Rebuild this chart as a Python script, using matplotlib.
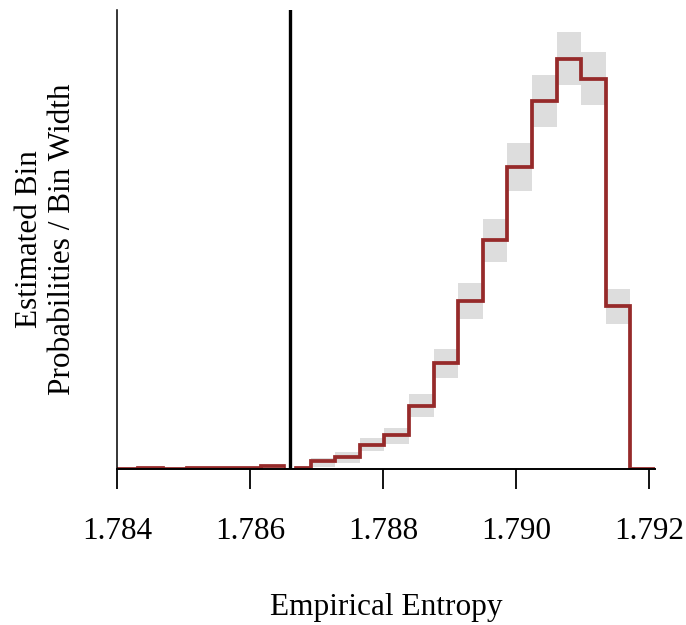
import numpy as np
import matplotlib.pyplot as plt

# bin edges of the histogram (empirical entropy)
edges = [1.78395, 1.78432, 1.78469, 1.78506, 1.78543, 1.78580, 1.78617,
         1.78654, 1.78691, 1.78728, 1.78765, 1.78802, 1.78839, 1.78876,
         1.78913, 1.78950, 1.78987, 1.79024, 1.79061, 1.79098, 1.79135,
         1.79172, 1.79209]
# estimated density per bin
density = [0, 1.4, 0.2, 0.6, 0.9, 0.9, 3.5, 1.2, 9.4, 14.5, 28.3, 40.1,
           74.3, 125.1, 198.2, 270.2, 356.4, 434.2, 483.8, 460.2, 192.3, 0]
# uncertainty band per bin
lower = [0, 0.4, 0, 0, 0, 0, 2.3, 0, 2.4, 7.1, 21.2, 29.5,
         61.4, 107.4, 177.0, 244.3, 328.0, 403.6, 453.1, 429.5, 171.1, 0]
upper = [0.8, 2.4, 1.2, 1.6, 1.9, 1.9, 4.7, 3.5, 13.0, 20.1, 36.6, 48.4,
         88.5, 141.6, 219.5, 295.0, 384.7, 464.9, 515.7, 492.1, 212.4, 0]
true_value = 1.786606
xticks = [1.784, 1.786, 1.788, 1.790, 1.792]

plt.rcParams['font.family'] = ['Liberation Serif', 'DejaVu Serif']

fig = plt.figure(figsize=(6.86, 6.25), dpi=100)
ax = fig.add_axes([117/686, 1 - 469/625, 538/686, 459/625])

edges = np.array(edges)
widths = np.diff(edges)
lower = np.array(lower)
upper = np.array(upper)
ax.bar(edges[:-1], upper - lower, bottom=lower, width=widths, align='edge',
       color='#dddddd', linewidth=0, zorder=1)
ax.stairs(density, edges, baseline=None, color='#962a2a', linewidth=2.7, zorder=2)

ax.axvline(true_value, color='white', linewidth=6, zorder=2.2)
ax.axvline(true_value, color='black', linewidth=2.4, zorder=3)

ax.set_xlim(1.784, 1.79209)
ax.set_ylim(0, 541.6)
ax.set_xticks(xticks)
ax.set_xticklabels([f'{t:.3f}' for t in xticks])
ax.set_yticks([])
ax.tick_params(axis='x', length=14.5, width=1.3, pad=20, labelsize=22.5)
ax.spines['top'].set_visible(False)
ax.spines['right'].set_visible(False)
ax.spines['left'].set_linewidth(1.1)
ax.spines['bottom'].set_linewidth(1.4)

fig.text(386/686, 1 - 607/625, 'Empirical Entropy', ha='center', va='center',
         fontsize=22.5)
fig.text(46/686, 1 - 239/625, 'Estimated Bin\nProbabilities / Bin Width',
         ha='center', va='center', rotation=90, fontsize=22.5, linespacing=1.15)

fig.savefig('out.png', dpi=100)
